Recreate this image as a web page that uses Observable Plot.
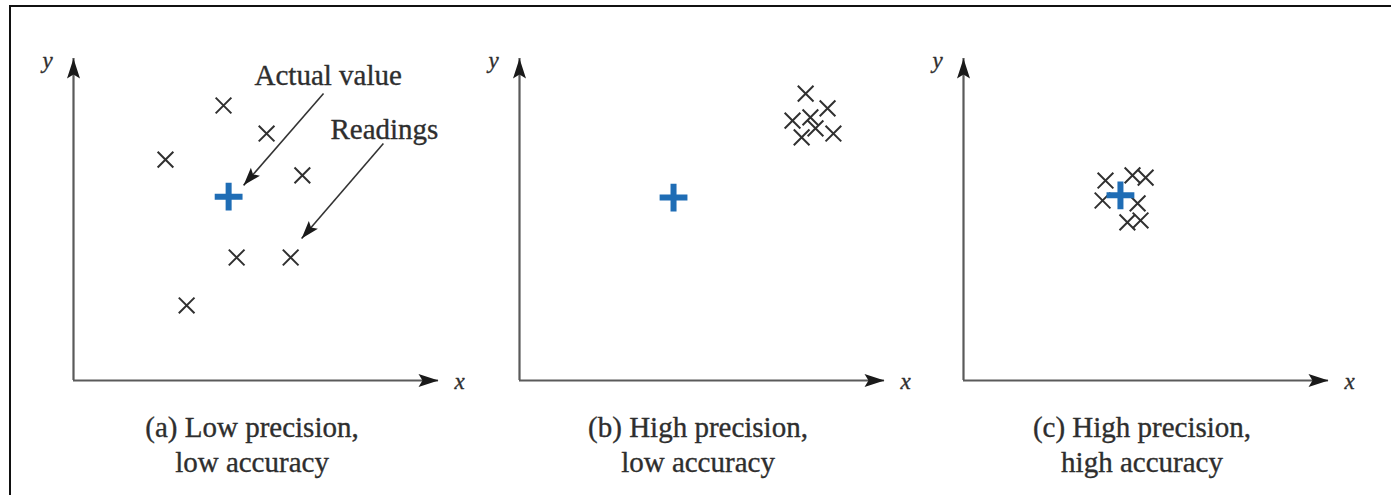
<!DOCTYPE html>
<html>
<head>
<meta charset="utf-8">
<script src="https://cdn.jsdelivr.net/npm/d3@7"></script>
<script src="https://cdn.jsdelivr.net/npm/@observablehq/plot@0.6"></script>
<style>
  html, body { margin: 0; padding: 0; background: #fff; }
  #chart { position: relative; width: 1391px; height: 495px; overflow: hidden; background: #fff; }
  #frame { position: absolute; left: 9px; top: 5px; right: 0; bottom: 0;
           border-top: 2px solid #111; border-left: 2px solid #111; }
  .panel { position: absolute; top: 0; }
</style>
</head>
<body>
<div id="chart"><div id="frame"></div></div>
<script>
// Axis extent (arbitrary units, origin at 0)
const axisMax = 10;

// Panel captions
const captions = [
  "(a) Low precision,\nlow accuracy",
  "(b) High precision,\nlow accuracy",
  "(c) High precision,\nhigh accuracy"
];

// Actual (true) value shown as the blue plus, one per panel
const actualX = [4.25, 4.22, 4.30];
const actualY = [5.71, 5.68, 5.75];

// Readings (x, y) for each panel
const readingsA = [[4.11, 8.54], [5.29, 7.67], [2.52, 6.86], [6.27, 6.37], [4.47, 3.82], [5.95, 3.82], [3.10, 2.33]];
const readingsB = [[7.84, 8.91], [8.44, 8.45], [7.48, 8.07], [7.97, 8.17], [8.11, 7.83], [7.73, 7.55], [8.60, 7.67]];
const readingsC = [[3.89, 6.21], [4.63, 6.37], [4.99, 6.30], [3.81, 5.59], [4.77, 5.50], [4.49, 4.91], [4.85, 4.97]];
const readings = [readingsA, readingsB, readingsC];

// Callouts in panel (a)
const calloutText = ["Actual value", "Readings"];
const calloutLabelX = [4.96, 7.04];
const calloutLabelY = [9.48, 7.80];
const calloutFrom = [[6.85, 8.91], [8.49, 7.36]];
const calloutTo = [[4.66, 6.06], [6.25, 4.41]];

// Layout of each small multiple
const panelLeft = [10, 456, 900];
const W = 470, H = 495;
const mL = 63, mR = 42, mT = 58, mB = 115;
const pxPerX = (W - mL - mR) / axisMax;
const pxPerY = (H - mT - mB) / axisMax;

const ink = "#2e2e2e";
const axisInk = "#5a5a5a";
const blue = "#1f6db5";
const serif = "Liberation Serif, Times New Roman, serif";

// Filled, notched arrowhead with its tip at the symbol origin, pointing at `angle`
function arrowHead(angle, len, half, notch) {
  const c = Math.cos(angle), s = Math.sin(angle);
  const pt = (u, v) => [u * c - v * s, u * s + v * c];
  const pts = [pt(0, 0), pt(-len, -half), pt(-len + notch, 0), pt(-len, half)];
  return {
    draw(ctx) {
      ctx.moveTo(pts[0][0], pts[0][1]);
      for (let i = 1; i < pts.length; ++i) ctx.lineTo(pts[i][0], pts[i][1]);
      ctx.closePath();
    }
  };
}

const headRight = arrowHead(0, 20, 6.5, 4);
const headUp = arrowHead(-Math.PI / 2, 20, 6.5, 4);

// Shared look for the serif labels (a hairline stroke gives them more weight)
const label = {fontFamily: serif, fill: ink, stroke: ink, strokeWidth: 0.35};

const chart = document.getElementById("chart");

captions.forEach((caption, i) => {
  const pts = readings[i].map(([x, y]) => ({x, y}));
  const marks = [
    // axes
    Plot.ruleY([0], {x1: 0, x2: axisMax, stroke: axisInk, strokeWidth: 2.2}),
    Plot.ruleX([0], {y1: 0, y2: axisMax, stroke: axisInk, strokeWidth: 2.2}),
    Plot.dot([0], {x: axisMax, y: 0, symbol: headRight, r: 5, fill: "#1a1a1a", stroke: "none"}),
    Plot.dot([0], {x: 0, y: axisMax, symbol: headUp, r: 5, fill: "#1a1a1a", stroke: "none"}),
    Plot.text(["x"], {x: axisMax, y: 0, dx: 21, dy: 1, fontStyle: "italic", fontSize: 23,
      ...label, textAnchor: "middle", lineAnchor: "middle"}),
    Plot.text(["y"], {x: 0, y: axisMax, dx: -26, dy: 2, fontStyle: "italic", fontSize: 23,
      ...label, textAnchor: "middle", lineAnchor: "middle"}),
    // readings
    Plot.dot(pts, {x: "x", y: "y", symbol: "times", r: 7.2, stroke: "#303030", strokeWidth: 2}),
    // actual value
    Plot.dot([0], {x: actualX[i], y: actualY[i], symbol: "plus", r: 9, stroke: blue, strokeWidth: 6,
      strokeLinecap: "butt"}),
    // caption
    Plot.text([caption], {frameAnchor: "bottom", dx: -4, dy: 32, text: d => d, fontSize: 29,
      lineHeight: 1.2, ...label, textAnchor: "middle", lineAnchor: "top"})
  ];

  if (i === 0) {
    calloutText.forEach((text, k) => {
      const [x1, y1] = calloutFrom[k];
      const [x2, y2] = calloutTo[k];
      const angle = Math.atan2(-(y2 - y1) * pxPerY, (x2 - x1) * pxPerX);
      marks.push(
        Plot.link([0], {x1, y1, x2, y2, stroke: "#333", strokeWidth: 1.6}),
        Plot.dot([0], {x: x2, y: y2, symbol: arrowHead(angle, 18, 6, 3.5), r: 5, fill: "#1a1a1a", stroke: "none"}),
        Plot.text([text], {x: calloutLabelX[k], y: calloutLabelY[k], fontSize: 29, ...label,
          textAnchor: "start", lineAnchor: "middle"})
      );
    });
  }

  const svg = Plot.plot({
    width: W,
    height: H,
    marginLeft: mL,
    marginRight: mR,
    marginTop: mT,
    marginBottom: mB,
    x: {domain: [0, axisMax], axis: null},
    y: {domain: [0, axisMax], axis: null},
    style: {background: "transparent", overflow: "visible", fontFamily: serif},
    marks
  });
  const holder = document.createElement("div");
  holder.className = "panel";
  holder.style.left = panelLeft[i] + "px";
  holder.style.width = W + "px";
  holder.appendChild(svg);
  chart.appendChild(holder);
});
</script>
</body>
</html>
